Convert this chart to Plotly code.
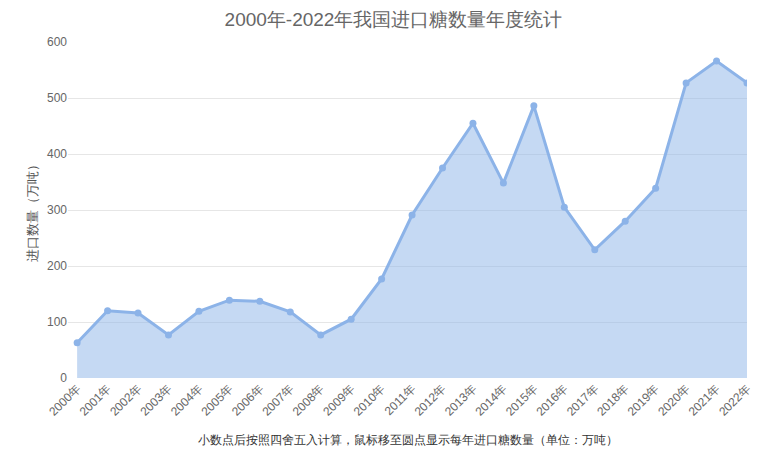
import plotly.graph_objects as go

years = [f"{y}年" for y in range(2000, 2023)]
imports = [63, 120, 116, 77, 119, 139, 137, 118, 77, 105, 177, 291, 375, 455, 348, 486, 305, 229, 280, 339, 527, 566, 527]
y_ticks = [0, 100, 200, 300, 400, 500, 600]

xs = list(range(len(years)))

fig = go.Figure()
fig.add_trace(go.Scatter(
    x=xs, y=imports, mode="lines+markers",
    line=dict(color="#8cb3e8", width=3),
    marker=dict(color="#8cb3e8", size=7),
    fill="tozeroy", fillcolor="rgba(140,179,232,0.5)",
    customdata=years,
    hovertemplate="%{customdata}: %{y}万吨<extra></extra>",
))

fig.update_layout(
    width=771, height=444,
    margin=dict(l=60, r=32, t=34, b=74),
    paper_bgcolor="white", plot_bgcolor="white",
    showlegend=False,
    font=dict(family="Liberation Sans, Arial, sans-serif", color="#666"),
    title=dict(text="2000年-2022年我国进口糖数量年度统计", x=0.5, xanchor="center",
               yref="container", y=1, yanchor="top", pad=dict(t=5),
               font=dict(size=19, color="#666")),
    xaxis=dict(range=[-0.3, 22], tickvals=xs, ticktext=years, tickangle=-45,
               showgrid=False, zeroline=False, showline=False,
               ticks="", tickfont=dict(size=12, color="#666")),
    yaxis=dict(range=[0, 600], tickvals=y_ticks, showgrid=True, gridcolor="#e6e6e6",
               zeroline=False, ticks="", tickfont=dict(size=12, color="#666"),
               title=dict(text="进口数量（万吨）", font=dict(size=13, color="#555"), standoff=6)),
    annotations=[dict(text="小数点后按照四舍五入计算，鼠标移至圆点显示每年进口糖数量（单位：万吨）",
                      xref="paper", yref="paper", x=0.5, y=-0.185, xanchor="center", yanchor="middle",
                      showarrow=False, font=dict(size=12, color="#333"))],
)

fig.write_html("out.html")
